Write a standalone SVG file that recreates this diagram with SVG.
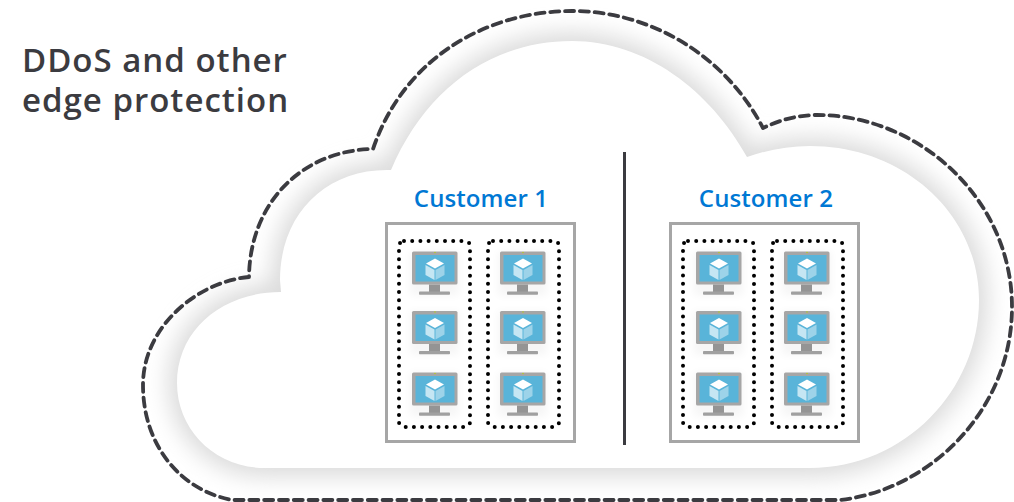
<svg xmlns="http://www.w3.org/2000/svg" width="1014" height="502" viewBox="0 0 1014 502">
<style>
text{font-family:"Open Sans","Noto Sans","Liberation Sans",sans-serif;font-weight:600}
.title{font-size:33px;fill:#3b3b40;letter-spacing:1px}
.cust{font-size:24px;fill:#0078d4;text-anchor:middle;letter-spacing:.1px}
.box{fill:#fff;stroke:#a6a6a6;stroke-width:3}
.dots{fill:none;stroke:#000;stroke-width:4;stroke-linecap:round;stroke-dasharray:0 8.200}
</style>
<defs>
<filter id="blur" x="-10%" y="-10%" width="120%" height="120%"><feGaussianBlur stdDeviation="11"/></filter>
<filter id="glow" x="-30%" y="-30%" width="160%" height="160%"><feGaussianBlur stdDeviation="4"/></filter>
<path id="inner" d="M281 292C222 292 177 330 177 383C177 430 215 468 265 468L810 468C905 468 979 390 979 300C979 215 905 146 810 146C788 146 767 150 747 157C710 90 645 41 572 41C490 41 425 90 391 170C325 168 280 215 280 280Z"/>
<g id="vm">
<rect x="-2" y="0" width="49" height="44" fill="#000" opacity=".035" filter="url(#glow)"/>
<rect x="0" y="0" width="45.500" height="33" rx="1.500" fill="#a6a6a6"/>
<rect x="3.500" y="3.500" width="39" height="26.500" fill="#59b4d9"/>
<rect x="17" y="33" width="11" height="7.500" fill="#949494"/>
<rect x="7" y="40" width="31" height="3.200" rx=".8" fill="#a0a0a0"/>
<circle cx="23" cy="1" r=".7" fill="#b8d200"/>
<path d="M23 7L32 12L23 17L14 12Z" fill="#fff"/>
<path d="M13.500 13.500L22.500 18.500L22.500 28.500L13.500 23.500Z" fill="#c5e6f3"/>
<path d="M32.500 13.500L23.500 18.500L23.500 28.500L32.500 23.500Z" fill="#9dd3e9"/>
</g>
</defs>
<rect width="1014" height="502" fill="#fff"/>
<g id="cloud">
<use href="#inner" fill="#dcdcdc" stroke="#dcdcdc" stroke-width="18" filter="url(#blur)"/>
<use href="#inner" fill="#fff"/>
<path d="M249 277C200 281 143 325 143 385C143 445 180 490 232 500L840 500C930 490 1012 410 1012 307C1012 200 920 115 817 115C797 115 780 120 763 128C725 55 650 11 572 11C490 11 405 55 373 149C305 150 250 200 249 277" fill="none" stroke="#3b3b40" stroke-width="3.800" stroke-linecap="round" stroke-linejoin="round" stroke-dasharray="9 5.800"/>
</g>
<g id="title"><text class="title" x="22" y="72">DDoS and other</text><text class="title" x="22" y="112">edge protection</text></g>
<line id="divider" x1="624.500" y1="152" x2="624.500" y2="445" stroke="#3b3b40" stroke-width="3"/>
<g id="customer-1">
<text class="cust" x="481" y="207">Customer 1</text>
<rect class="box" x="386.500" y="223.500" width="188" height="218"/>
<rect class="dots" x="399" y="241" width="71" height="186" rx="5"/>
<rect class="dots" x="488" y="241" width="71" height="186" rx="5"/>
<g id="c1-vm1"><use href="#vm" x="412" y="251.500"/></g>
<g id="c1-vm2"><use href="#vm" x="500" y="251.500"/></g>
<g id="c1-vm3"><use href="#vm" x="412" y="311"/></g>
<g id="c1-vm4"><use href="#vm" x="500" y="311"/></g>
<g id="c1-vm5"><use href="#vm" x="412" y="372.500"/></g>
<g id="c1-vm6"><use href="#vm" x="500" y="372.500"/></g>
</g>
<g id="customer-2">
<text class="cust" x="766" y="207">Customer 2</text>
<rect class="box" x="670.500" y="223.500" width="188" height="218"/>
<rect class="dots" x="683" y="241" width="71" height="186" rx="5"/>
<rect class="dots" x="772" y="241" width="71" height="186" rx="5"/>
<g id="c2-vm1"><use href="#vm" x="696" y="251.500"/></g>
<g id="c2-vm2"><use href="#vm" x="784" y="251.500"/></g>
<g id="c2-vm3"><use href="#vm" x="696" y="311"/></g>
<g id="c2-vm4"><use href="#vm" x="784" y="311"/></g>
<g id="c2-vm5"><use href="#vm" x="696" y="372.500"/></g>
<g id="c2-vm6"><use href="#vm" x="784" y="372.500"/></g>
</g>
</svg>
